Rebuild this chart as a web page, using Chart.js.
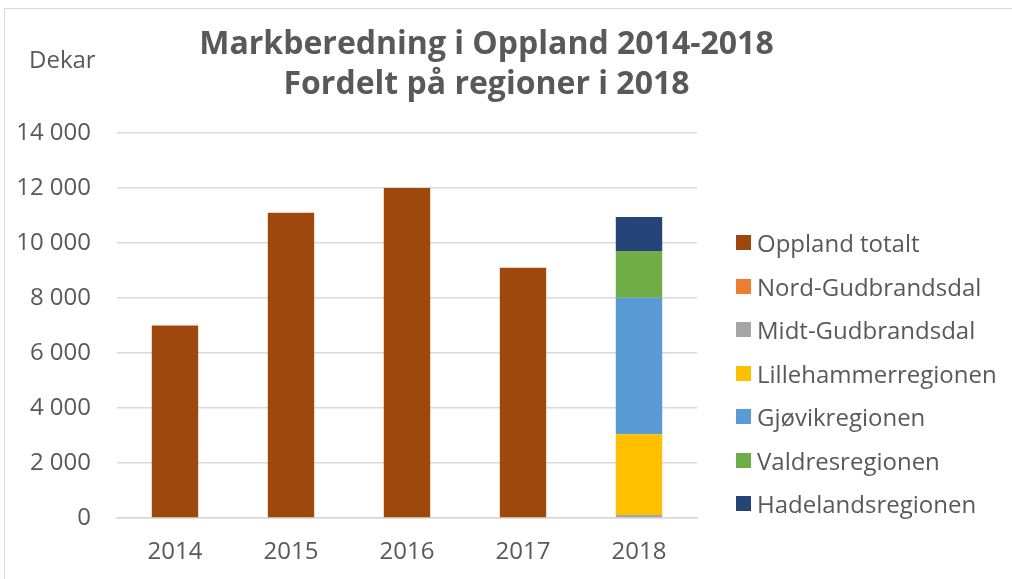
<!DOCTYPE html>
<html>
<head>
<meta charset="utf-8">
<script src="https://cdn.jsdelivr.net/npm/chart.js@4/dist/chart.umd.min.js"></script>
<style>
  body { margin: 0; background: #fff; font-family: "Open Sans", sans-serif; }
  #wrap { position: relative; width: 1012px; height: 579px; overflow: hidden; }
  #frame { position: absolute; left: 4px; top: 8px; width: 1100px; height: 700px; border: 1.5px solid #d9d9d9; }
  #holder { position: absolute; left: 0; top: 0; width: 973px; height: 579px; }
  #legend { position: absolute; left: 736px; top: 221px; margin: 0; padding: 0; list-style: none; }
  #legend li { height: 43.5px; display: flex; align-items: center; color: #595959; font-size: 24px; white-space: nowrap; }
  #legend span { display: inline-block; width: 15px; height: 15px; margin-right: 6px; }
</style>
</head>
<body>
<div id="wrap">
  <div id="frame"></div>
  <div id="holder"><canvas id="myChart"></canvas></div>
  <ul id="legend"></ul>
</div>
<script>
// years on the x axis
var years = ["2014", "2015", "2016", "2017", "2018"];

// total for the whole county, 2014-2017
var opplandTotalt = [7000, 11100, 12000, 9100, null];

// regions, only split out for 2018
var nordGudbrandsdal = [null, null, null, null, 0];
var midtGudbrandsdal = [null, null, null, null, 110];
var lillehammer = [null, null, null, null, 2940];
var gjovik = [null, null, null, null, 4960];
var valdres = [null, null, null, null, 1700];
var hadeland = [null, null, null, null, 1235];

var seriesNames = ["Oppland totalt", "Nord-Gudbrandsdal", "Midt-Gudbrandsdal",
  "Lillehammerregionen", "Gjøvikregionen", "Valdresregionen", "Hadelandsregionen"];
var seriesColors = ["#9E480E", "#ED7D31", "#A5A5A5", "#FFC000", "#5B9BD5", "#70AD47", "#264478"];
var seriesValues = [opplandTotalt, nordGudbrandsdal, midtGudbrandsdal, lillehammer, gjovik, valdres, hadeland];

var yTicks = [0, 2000, 4000, 6000, 8000, 10000, 12000, 14000];

var textColor = "#595959";
var gridColor = "#d9d9d9";

function spaced(v) {
  return String(v).replace(/\B(?=(\d{3})+(?!\d))/g, " ");
}

var datasets = seriesNames.map(function (name, i) {
  return {
    label: name,
    data: seriesValues[i],
    backgroundColor: seriesColors[i],
    borderWidth: 0,
    categoryPercentage: 1,
    barPercentage: 0.4
  };
});

// "Dekar" unit label, horizontal above the y axis
var unitLabel = {
  id: "unitLabel",
  afterDraw: function (chart) {
    var ctx = chart.ctx;
    ctx.save();
    ctx.font = "24px 'Open Sans'";
    ctx.fillStyle = textColor;
    ctx.textBaseline = "middle";
    ctx.textAlign = "left";
    ctx.fillText("Dekar", 29, 61);
    ctx.restore();
  }
};

var ctx = document.getElementById("myChart");
var myChart = new Chart(ctx, {
  type: "bar",
  data: { labels: years, datasets: datasets },
  plugins: [unitLabel],
  options: {
    responsive: true,
    maintainAspectRatio: false,
    animation: false,
    layout: { padding: 0 },
    plugins: {
      legend: { display: false },
      tooltip: { enabled: false },
      title: {
        display: true,
        text: ["Markberedning i Oppland 2014-2018", "Fordelt på regioner i 2018"],
        color: textColor,
        font: { family: "Open Sans", size: 32, weight: "bold", lineHeight: 1.25 },
        padding: { top: 25, bottom: 28 }
      }
    },
    scales: {
      x: {
        stacked: true,
        grid: { display: false, drawTicks: false },
        border: { display: true, color: gridColor, width: 1.5 },
        ticks: { color: textColor, font: { family: "Open Sans", size: 24 }, padding: 20 },
        afterFit: function (axis) { axis.height = 61; }
      },
      y: {
        stacked: true,
        min: 0,
        max: 14000,
        afterBuildTicks: function (axis) {
          axis.ticks = yTicks.map(function (v) { return { value: v }; });
        },
        grid: { color: gridColor, lineWidth: 1.5, drawTicks: false },
        border: { display: false },
        ticks: {
          color: textColor,
          font: { family: "Open Sans", size: 24 },
          padding: 26,
          callback: function (v) { return spaced(v); }
        },
        afterFit: function (axis) { axis.width = 117; }
      },
      // empty axis on the right, only keeps room for the legend
      side: {
        position: "right",
        display: true,
        grid: { display: false, drawTicks: false },
        border: { display: false },
        ticks: { display: false },
        afterFit: function (axis) { axis.width = 276; }
      }
    }
  }
});

// html legend built from the chart's datasets
var ul = document.getElementById("legend");
myChart.data.datasets.forEach(function (ds) {
  var li = document.createElement("li");
  var box = document.createElement("span");
  box.style.background = ds.backgroundColor;
  li.appendChild(box);
  li.appendChild(document.createTextNode(ds.label));
  ul.appendChild(li);
});
</script>
</body>
</html>
